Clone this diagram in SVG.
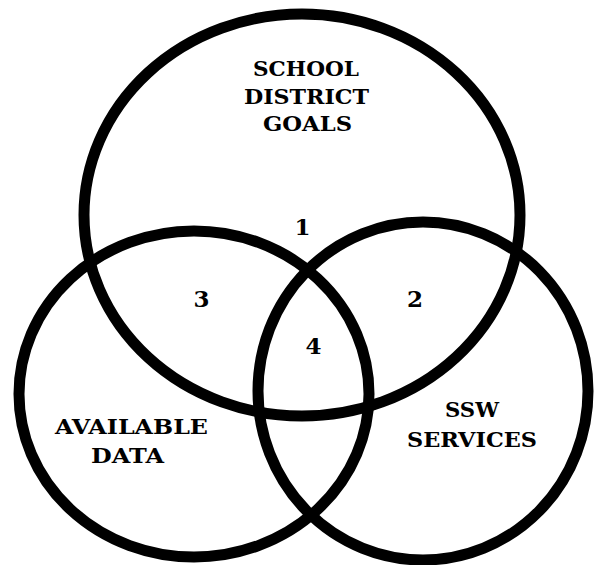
<svg xmlns="http://www.w3.org/2000/svg" width="594" height="565" viewBox="0 0 594 565">
<style>
.c{fill:none;stroke:#000;stroke-width:11}
.t{font-family:'DejaVu Serif','Liberation Serif',serif;font-weight:bold;font-size:21px;fill:#000;text-anchor:middle}
.n{font-size:23px}
</style>
<rect width="594" height="565" fill="#fff"/>
<g id="school-district-goals">
<ellipse class="c" cx="302" cy="215" rx="218" ry="201"/>
<text class="t" x="306" y="76" textLength="106" lengthAdjust="spacingAndGlyphs">SCHOOL</text>
<text class="t" x="306.5" y="103.5" textLength="125" lengthAdjust="spacingAndGlyphs">DISTRICT</text>
<text class="t" x="307.5" y="131" textLength="89" lengthAdjust="spacingAndGlyphs">GOALS</text>
</g>
<g id="available-data">
<ellipse class="c" cx="194" cy="394" rx="175" ry="163"/>
<text class="t" x="131.5" y="434" textLength="153" lengthAdjust="spacingAndGlyphs">AVAILABLE</text>
<text class="t" x="127.5" y="463" textLength="73" lengthAdjust="spacingAndGlyphs">DATA</text>
</g>
<g id="ssw-services">
<ellipse class="c" cx="423" cy="391" rx="165" ry="169"/>
<text class="t" x="472" y="417" textLength="54" lengthAdjust="spacingAndGlyphs">SSW</text>
<text class="t" x="472" y="447" textLength="130" lengthAdjust="spacingAndGlyphs">SERVICES</text>
</g>
<g id="regions">
<text class="t n" x="302.5" y="235">1</text>
<text class="t n" x="415" y="307">2</text>
<text class="t n" x="201.5" y="307">3</text>
<text class="t n" x="313.5" y="354">4</text>
</g>
<g id="connectors"/>
</svg>
